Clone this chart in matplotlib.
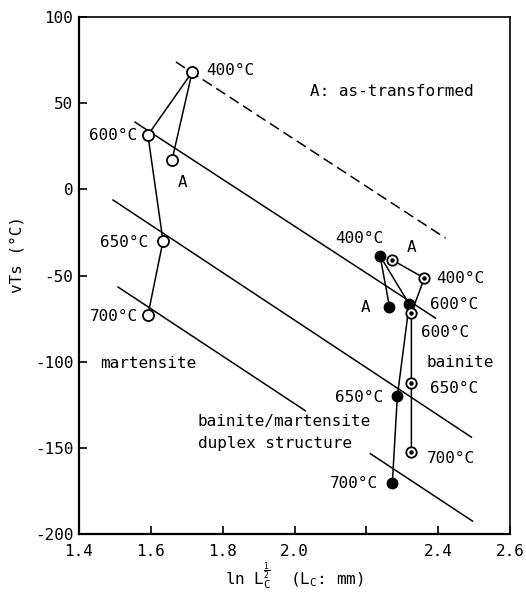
import matplotlib.pyplot as plt
import numpy as np

# order of points in every series: A, 400, 600, 650, 700 (deg C)
mart_x = [1.659, 1.715, 1.592, 1.634, 1.592]
mart_y = [17, 68, 31.5, -30, -73]
duplex_x = [2.264, 2.238, 2.319, 2.286, 2.272]
duplex_y = [-68, -38.7, -66.6, -120, -170.5]
bain_x = [2.272, 2.361, 2.325, 2.325, 2.325]
bain_y = [-41, -51.5, -71.8, -112.4, -152.5]

# boundary lines (start x, start y, end x, end y)
upper_line = [1.556, 39, 2.392, -74.7]
middle_line = [1.495, -6.2, 2.492, -143.8]
lower_line = [1.509, -56.7, 2.495, -192.5]
lower_gap = [2.03, 2.211]
dashed_line = [1.670, 73.9, 2.420, -28.3]

xticks = [1.4, 1.6, 1.8, 2.0, 2.2, 2.4, 2.6]
xticklabels = ["1.4", "1.6", "1.8", "2.0", "", "2.4", "2.6"]
yticks = [100, 50, 0, -50, -100, -150, -200]

# (text, x, y, ha)
labels = [
    ("400°C", 1.754, 69, "left"),
    ("600°C", 1.562, 31.5, "right"),
    ("A", 1.687, 4, "center"),
    ("650°C", 1.592, -30.6, "right"),
    ("700°C", 1.564, -73.5, "right"),
    ("martensite", 1.458, -100.8, "left"),
    ("A: as-transformed", 2.043, 56.5, "left"),
    ("400°C", 2.18, -28.3, "center"),
    ("A", 2.325, -33.5, "center"),
    ("400°C", 2.394, -51.5, "left"),
    ("A", 2.197, -68.3, "center"),
    ("600°C", 2.378, -66.6, "left"),
    ("600°C", 2.353, -82.8, "left"),
    ("bainite", 2.367, -100.2, "left"),
    ("650°C", 2.378, -115.3, "left"),
    ("650°C", 2.247, -120.5, "right"),
    ("bainite/martensite", 1.731, -135, "left"),
    ("duplex structure", 1.731, -147.2, "left"),
    ("700°C", 2.367, -156, "left"),
    ("700°C", 2.233, -170.5, "right"),
]

plt.rcParams['font.family'] = ['DejaVu Sans Mono']
plt.rcParams['mathtext.fontset'] = 'dejavusans'

fig = plt.figure(figsize=(5.26, 5.97), dpi=100)
ax = fig.add_axes([0.150, 0.1055, 0.820, 0.866])

lw = 1.1
ax.plot(upper_line[0::2], upper_line[1::2], color="black", lw=lw)
ax.plot(middle_line[0::2], middle_line[1::2], color="black", lw=lw)
ax.plot(dashed_line[0::2], dashed_line[1::2], color="black", lw=lw,
        dashes=(7, 3.5))

x0, y0, x1, y1 = lower_line
slope = (y1 - y0) / (x1 - x0)
for xa, xb in [(x0, lower_gap[0]), (lower_gap[1], x1)]:
    ax.plot([xa, xb], [y0 + slope * (xa - x0), y0 + slope * (xb - x0)],
            color="black", lw=lw)

# connecting lines: A-400, 400-600, 600-650, 650-700
for xs, ys in [(mart_x, mart_y), (duplex_x, duplex_y), (bain_x, bain_y)]:
    ax.plot(xs, ys, color="black", lw=lw, zorder=2)

ax.plot(mart_x, mart_y, "o", ms=8, mfc="white", mec="black", mew=1.3,
        zorder=3)
ax.plot(duplex_x, duplex_y, "o", ms=7.5, mfc="black", mec="black",
        zorder=3)
ax.plot(bain_x, bain_y, "o", ms=7.5, mfc="white", mec="black", mew=1.3,
        zorder=3)
ax.plot(bain_x, bain_y, "o", ms=2.2, mfc="black", mec="black", zorder=4)

for txt, x, y, ha in labels:
    ax.text(x, y, txt, ha=ha, va="center", fontsize=11.5)

ax.set_xlim(1.4, 2.6)
ax.set_ylim(-200, 100)
ax.set_xticks(xticks)
ax.set_xticklabels(xticklabels)
ax.set_yticks(yticks)
ax.set_yticklabels([str(v) for v in yticks])
ax.tick_params(direction="in", length=6, width=1.2, labelsize=11.5)
ax.tick_params(axis="x", pad=7)
ax.tick_params(axis="y", pad=4)
for side in ["left", "bottom"]:
    ax.spines[side].set_linewidth(1.6)
for side in ["top", "right"]:
    ax.spines[side].set_linewidth(1.2)

ax.set_xlabel(r"ln L$_{\mathtt{C}}^{\frac{1}{2}}$  (L$_{\mathtt{C}}$: mm)",
              fontsize=11.5, labelpad=1)
ax.set_ylabel("vTs (°C)", fontsize=11.5)
ax.yaxis.set_label_coords(-0.125, 0.54)

fig.savefig("out.png", dpi=100)
